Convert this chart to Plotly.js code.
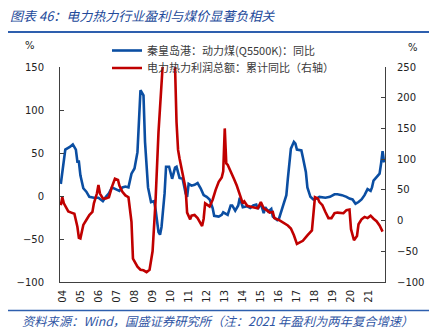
<!DOCTYPE html>
<html>
<head>
<meta charset="utf-8">
<script src="https://cdn.plot.ly/plotly-3.0.1.min.js"></script>
<style>html,body{margin:0;padding:0;background:#fff;}#chart{width:429px;height:331px;}</style>
</head>
<body>
<div id="chart"></div>
<script>
// 秦皇岛港：动力煤(Q5500K)：同比 (%), left axis
const coalDates = ['2003-12','2004-01','2004-03','2004-06','2004-08','2004-10','2004-11','2004-12','2005-01','2005-03','2005-05','2005-07','2005-10','2006-01','2006-04','2006-06','2006-08','2006-10','2007-01','2007-03','2007-05','2007-07','2007-09','2007-11','2008-01','2008-03','2008-05','2008-07','2008-08','2008-10','2008-12','2009-02','2009-03','2009-05','2009-06','2009-07','2009-09','2009-10','2009-12','2010-02','2010-04','2010-05','2010-07','2010-09','2010-11','2010-12','2011-01','2011-03','2011-05','2011-07','2011-09','2011-11','2012-01','2012-03','2012-05','2012-06','2012-09','2012-11','2012-12','2013-01','2013-03','2013-05','2013-06','2013-08','2013-10','2013-11','2014-01','2014-04','2014-06','2014-08','2014-10','2014-11','2015-01','2015-03','2015-04','2015-06','2015-08','2015-09','2015-12','2016-01','2016-03','2016-05','2016-06','2016-07','2016-09','2016-11','2016-12','2017-01','2017-04','2017-05','2017-07','2017-08','2017-10','2017-12','2018-02','2018-04','2018-08','2018-11','2019-02','2019-04','2019-07','2019-10','2019-12','2020-02','2020-04','2020-06','2020-08','2020-10','2020-12','2021-02','2021-03','2021-04','2021-06','2021-08','2021-09','2021-10','2021-11'];
const coalYoY = [14,28,54,57,60,54,40,40,24,9,5,-1,-2,-2,-6,-1,3,10,7,6,10,11,10,26,32,51,123,117,63,10,-7,-6,-15,-42,-45,-36,3,34,34,20,33,34,21,20,3,-1,14,12,13,15,9,1,-1,-4,-14,-23,-24,-22,-19,-20,-22,-11,-11,-17,-11,-2,-13,-12,-14,-11,-10,-15,-9,-20,-13,-18,-15,-24,-28,-27,-15,-4,1,20,55,63,61,54,53,45,28,10,-1,-4,-3,-1,-2,-1,2,2,1,-1,-3,-4,-9,-7,-4,1,8,6,10,18,22,26,38,52,39];

// 电力热力利润总额：累计同比 (%), right axis
const profitDates = ['2003-12','2004-01','2004-02','2004-05','2004-07','2004-09','2004-11','2004-12','2005-01','2005-03','2005-05','2005-07','2005-09','2005-10','2005-12','2006-01','2006-02','2006-04','2006-06','2006-08','2006-10','2006-12','2007-02','2007-03','2007-05','2007-07','2007-09','2007-11','2007-12','2008-02','2008-03','2008-05','2008-07','2008-09','2008-11','2009-01','2009-03','2009-05','2009-06','2009-07','2009-09','2009-11','2010-01','2010-04','2010-05','2010-06','2010-07','2010-08','2010-09','2010-11','2010-12','2011-02','2011-03','2011-05','2011-07','2011-10','2011-11','2011-12','2012-03','2012-05','2012-07','2012-09','2012-11','2012-12','2013-01','2013-02','2013-03','2013-06','2013-07','2013-09','2013-10','2013-12','2014-01','2014-02','2014-04','2014-07','2014-10','2014-11','2015-01','2015-03','2015-05','2015-07','2015-09','2015-10','2016-01','2016-03','2016-05','2016-07','2016-09','2016-11','2017-01','2017-03','2017-05','2017-08','2017-10','2017-11','2018-01','2018-03','2018-04','2018-06','2018-08','2018-10','2018-12','2019-02','2019-04','2019-08','2019-10','2019-12','2020-01','2020-03','2020-05','2020-06','2020-08','2020-10','2020-12','2021-02','2021-04','2021-06','2021-08','2021-10'];
const profitYoY = [25,38,28,15,13,11,-10,-28,-29,-7,1,9,14,28,44,58,44,36,36,38,55,68,66,57,47,41,38,-2,-62,-72,-75,-80,-81,-84,-80,-50,30,144,204,262,330,380,330,250,160,115,101,88,75,52,13,2,8,9,4,-9,3,28,23,34,50,63,70,80,150,93,91,76,69,57,49,36,28,31,24,22,21,20,30,20,17,13,14,4,1,-2,-5,-8,-13,-24,-38,-36,-33,-24,-19,-16,38,36,30,25,14,4,4,12,13,12,17,18,-14,-32,-25,-6,2,6,4,8,3,-1,-8,-18];

const yearTickVals = ['2004-01-01','2005-01-01','2006-01-01','2007-01-01','2008-01-01','2009-01-01','2010-01-01','2011-01-01','2012-01-01','2013-01-01','2014-01-01','2015-01-01','2016-01-01','2017-01-01','2018-01-01','2019-01-01','2020-01-01','2021-01-01'];
const yearTickText = ['04','05','06','07','08','09','10','11','12','13','14','15','16','17','18','19','20','21'];
const leftTicks = [-100,-50,0,50,100,150];
const rightTicks = [-100,-50,0,50,100,150,200,250];

const BLUE = '#0b4ea2';
const RED = '#c00000';
const AX = '#404040';
const NAVY = '#234a9a';
const numFont = {family: 'DejaVu Sans, Verdana, sans-serif', size: 10, color: '#222'};
const cjk = 'Noto Sans CJK SC, sans-serif';
const legendFont = {family: cjk, size: 11, color: '#3a3a3a'};

const traces = [
  {x: coalDates, y: coalYoY, type: 'scatter', mode: 'lines', name: '秦皇岛港：动力煤(Q5500K)：同比',
   line: {color: BLUE, width: 2.6}, yaxis: 'y', legend: 'legend'},
  {x: profitDates, y: profitYoY, type: 'scatter', mode: 'lines', name: '电力热力利润总额：累计同比（右轴）',
   line: {color: RED, width: 2.6}, yaxis: 'y2', legend: 'legend2'}
];

const layout = {
  width: 429, height: 331,
  margin: {l: 60, r: 44, t: 67, b: 49, pad: 0},
  paper_bgcolor: '#fff', plot_bgcolor: '#fff',
  title: {text: '图表 46：电力热力行业盈利与煤价显著负相关', xref: 'container', yref: 'container',
          x: 10/429, xanchor: 'left', y: 1 - 16/331, yanchor: 'middle',
          font: {family: cjk, size: 13, color: NAVY, style: 'italic'}},
  showlegend: true,
  legend: {x: (107-60)/325, xanchor: 'left', y: (282-36)/215, yanchor: 'top',
           bgcolor: 'rgba(0,0,0,0)', borderwidth: 0, font: legendFont},
  legend2: {x: (107-60)/325, xanchor: 'left', y: (282-53.5)/215, yanchor: 'top',
           bgcolor: 'rgba(0,0,0,0)', borderwidth: 0, font: legendFont},
  xaxis: {type: 'date', range: ['2003-11-15', '2021-11-19'], tickmode: 'array',
          tickvals: yearTickVals, ticktext: yearTickText, tickangle: -90, ticks: '',
          showline: true, linecolor: AX, linewidth: 1, showgrid: false, zeroline: false,
          tickfont: numFont, ticklabelstandoff: 3},
  yaxis: {range: [-100, 150], tickmode: 'array', tickvals: leftTicks, ticks: 'inside', ticklen: 4,
          tickcolor: AX, showline: true, linecolor: AX, linewidth: 1, showgrid: false, zeroline: false,
          tickfont: numFont, ticklabelstandoff: 13},
  yaxis2: {range: [-100, 250], overlaying: 'y', side: 'right', tickmode: 'array', tickvals: rightTicks,
           ticks: 'inside', ticklen: 4, tickcolor: AX, showline: true, linecolor: AX, linewidth: 1,
           showgrid: false, zeroline: false, tickfont: numFont, ticklabelstandoff: 9},
  shapes: [
    {type: 'line', xref: 'paper', yref: 'paper', x0: (8-60)/325, x1: (429-60)/325,
     y0: (282-32)/215, y1: (282-32)/215, line: {color: '#2e5fae', width: 2}},
    {type: 'line', xref: 'paper', yref: 'paper', x0: (8-60)/325, x1: (429-60)/325,
     y0: (282-310.5)/215, y1: (282-310.5)/215, line: {color: '#2e5fae', width: 1.5}}
  ],
  annotations: [
    {text: '%', xref: 'paper', yref: 'paper', x: (30-60)/325, y: (282-45)/215, xanchor: 'center', yanchor: 'middle',
     showarrow: false, font: numFont},
    {text: '%', xref: 'paper', yref: 'paper', x: (413-60)/325, y: (282-47)/215, xanchor: 'center', yanchor: 'middle',
     showarrow: false, font: numFont},
    {text: '资料来源：Wind，国盛证券研究所（注：2021 年盈利为两年复合增速）', xref: 'paper', yref: 'paper',
     x: (20-60)/325, y: (282-321)/215, xanchor: 'left', yanchor: 'middle', showarrow: false,
     font: {family: cjk, size: 12.3, color: '#2f55a4', style: 'italic'}}
  ]
};

Plotly.newPlot('chart', traces, layout, {displayModeBar: false, staticPlot: true});
</script>
</body>
</html>
